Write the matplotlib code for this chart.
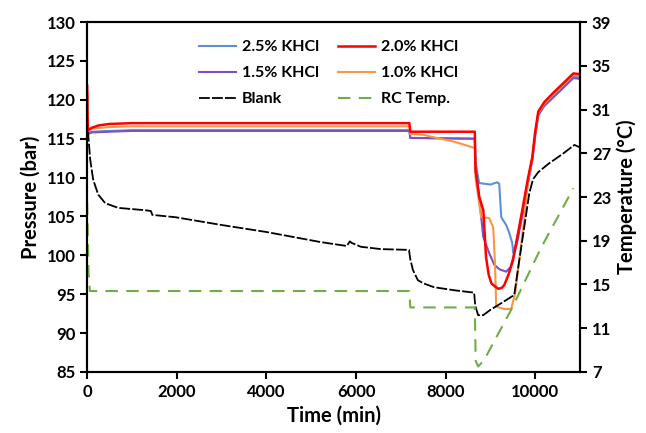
import matplotlib.pyplot as plt

plt.rcParams['font.family'] = ['Lato', 'DejaVu Sans']
plt.rcParams['font.weight'] = 'bold'

# 2.5% KHCl
t_25 = [0, 5, 20, 100, 500, 1000, 7190, 7210, 8650, 8665, 8747, 9000, 9150, 9195, 9240, 9350, 9418,
        9485, 9508, 9575, 9700, 9843, 9933, 10000, 10067, 10200, 10400, 10600, 10850, 10990]
p_25 = [120.5, 117, 115.8, 115.9, 116.0, 116.1, 116.1, 115.1, 115.0, 112, 109.3, 109.1, 109.4, 109.2,
        104.9, 103.9, 102.9, 101.6, 100.3, 101.6, 105.2, 109.8, 112.4, 115.7, 118.2, 119.4, 120.5,
        121.6, 123.0, 122.9]

# 2.0% KHCl
t_20 = [0, 5, 20, 100, 250, 500, 1000, 3000, 5000, 7190, 7210, 8650, 8665, 8750, 8840, 8900, 8960,
        9020, 9100, 9170, 9250, 9310, 9400, 9500, 9575, 9700, 9843, 9933, 10000, 10067, 10200, 10400,
        10600, 10850, 10990]
p_20 = [121.8, 118, 116.1, 116.4, 116.7, 116.9, 117.0, 117.0, 117.0, 117.0, 115.9, 115.9, 111, 107.5,
        105.8, 99.8, 97.5, 96.4, 96.0, 95.7, 95.8, 96.2, 97.5, 99.3, 101.6, 105.5, 110.1, 112.6, 116.0,
        118.5, 119.7, 120.9, 122.0, 123.4, 123.3]

# 1.5% KHCl
t_15 = [0, 5, 20, 100, 500, 1000, 7190, 7210, 8650, 8665, 8747, 8837, 8970, 9083, 9200, 9350, 9450,
        9508, 9600, 9700, 9843, 9933, 10000, 10067, 10200, 10400, 10600, 10850, 10990]
p_15 = [120.5, 117, 115.6, 115.8, 115.9, 116.0, 116.0, 115.1, 115.0, 111.5, 107.5, 102.4, 100.3, 98.8,
        98.2, 97.9, 98.5, 99.8, 101.8, 104.8, 109.5, 112.2, 115.4, 118.0, 119.2, 120.3, 121.4, 122.8,
        122.7]

# 1.0% KHCl
t_10 = [0, 5, 20, 100, 500, 1000, 7190, 7210, 7500, 7800, 8200, 8650, 8665, 8792, 8970, 9060, 9100,
        9128, 9300, 9463, 9553, 9642, 9750, 9843, 9933, 10000, 10067, 10200, 10400, 10600, 10850, 10990]
p_10 = [121, 117.5, 116.0, 116.3, 116.5, 116.6, 116.6, 115.6, 115.5, 115.1, 114.6, 113.8, 110, 104.9,
        104.8, 103.6, 99, 93.4, 93.1, 93.1, 95.2, 99.4, 104.5, 109.8, 112.5, 115.8, 118.3, 119.5, 120.7,
        121.8, 123.2, 123.1]

# Blank
t_blank = [0, 20, 67, 134, 246, 403, 694, 1298, 1420, 1454, 1970, 3000, 4000, 5213, 5794, 5861, 5900,
           6107, 6555, 7181, 7210, 7270, 7380, 7500, 7740, 8200, 8635, 8660, 8725, 8837, 9000, 9200,
           9530, 9620, 9750, 9866, 9950, 10067, 10300, 10600, 10873, 10990]
p_blank = [116.0, 115.7, 112.3, 109.7, 107.8, 106.7, 106.1, 105.8, 105.7, 105.2, 104.9, 103.9, 103.0,
           101.7, 101.2, 101.8, 101.6, 101.1, 100.8, 100.7, 99.5, 98.1, 96.8, 96.4, 95.9, 95.5, 95.2,
           93.5, 92.3, 92.3, 93.0, 93.7, 94.9, 98.5, 103.5, 108.0, 109.8, 110.7, 111.8, 113.0, 114.2,
           113.9]

# RC temperature (right axis)
t_rc = [0, 30, 60, 7190, 7210, 8650, 8670, 8725, 8860, 9463, 10134, 10850]
T_rc = [22.5, 16, 14.4, 14.4, 12.9, 12.9, 8.0, 7.5, 8.1, 12.7, 18.4, 23.8]

fig = plt.figure(figsize=(6.46, 4.33), dpi=100)
ax = fig.add_axes([0.135, 0.141, 0.763, 0.808])
ax2 = ax.twinx()

l25, = ax.plot(t_25, p_25, color='#5B8FD9', lw=1.5, label='2.5% KHCl')
l15, = ax.plot(t_15, p_15, color='#7F4FC9', lw=1.5, label='1.5% KHCl')
l10, = ax.plot(t_10, p_10, color='#F79646', lw=1.5, label='1.0% KHCl')
l20, = ax.plot(t_20, p_20, color='#FF0000', lw=1.8, label='2.0% KHCl')
lbl, = ax.plot(t_blank, p_blank, color='black', lw=1.3, linestyle=(0, (6, 1.2)), label='Blank')
lrc, = ax2.plot(t_rc, T_rc, color='#70AD47', lw=1.5, linestyle=(0, (6, 4)), label='RC Temp.')

ax.set_xlim(0, 11000)
ax.set_ylim(85, 130)
ax.set_yticks(range(85, 131, 5))
ax.set_xticks(range(0, 10001, 2000))
ax2.set_ylim(7, 39)
ax2.set_yticks(range(7, 40, 4))

ax.set_xlabel('Time (min)', fontsize=14.5, fontweight='bold')
ax.set_ylabel('Pressure (bar)', fontsize=14.5, fontweight='bold')
ax2.set_ylabel('Temperature (°C)', fontsize=14.5, fontweight='bold')

for a in (ax, ax2):
    a.tick_params(labelsize=12, width=1.5, length=5)
    for s in a.spines.values():
        s.set_linewidth(1.5)

handles = [l25, l15, lbl, l20, l10, lrc]
ax.legend(handles, [h.get_label() for h in handles], ncol=2, frameon=False,
          loc='upper center', bbox_to_anchor=(0.49, 0.99), handlelength=2.3, columnspacing=1.2,
          labelspacing=0.75, handletextpad=0.4, prop={'weight': 'bold', 'size': 11.5})

fig.savefig('out.png', dpi=100)
